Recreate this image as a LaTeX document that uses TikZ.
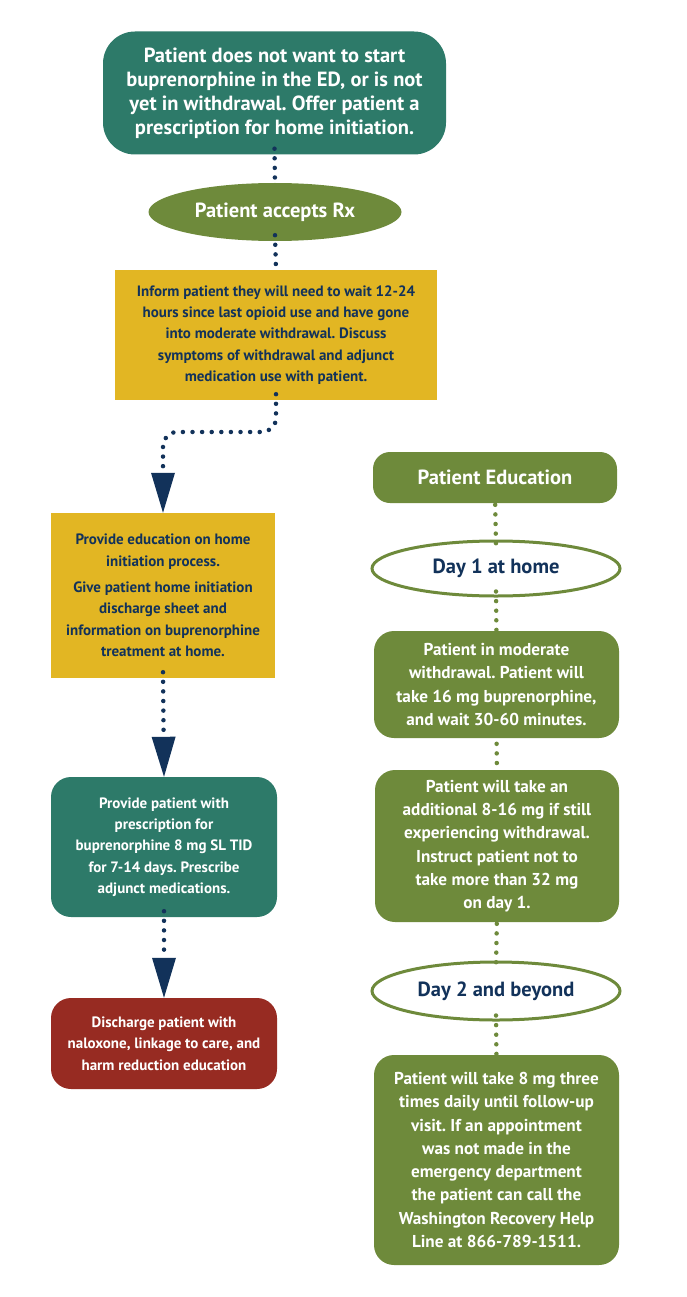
\documentclass[tikz,border=0pt]{standalone}
\usepackage{fontspec}
\setmainfont{PT Sans}
\usetikzlibrary{arrows.meta,shapes.geometric}
\definecolor{teal}{HTML}{2D7A69}
\definecolor{olive}{HTML}{6E8A3B}
\definecolor{mustard}{HTML}{E2B623}
\definecolor{rust}{HTML}{972B22}
\definecolor{navy}{HTML}{12325A}
\frenchspacing

\begin{document}
\begin{tikzpicture}[x=1pt,y=-1pt,
  box/.style={align=center, font=\bfseries, inner sep=0pt},
  tealbox/.style={box, fill=teal, text=white, rounded corners=22pt},
  yellowbox/.style={box, fill=mustard, text=navy},
  greenbox/.style={box, fill=olive, text=white, rounded corners=20pt},
  redbox/.style={box, fill=rust, text=white, rounded corners=20pt},
  dayoval/.style={box, ellipse, draw=olive, line width=3pt, fill=white, text=navy},
  flow/.style={navy, line width=4.5pt, line cap=round, dash pattern=on 0pt off 9.6pt},
  flowtip/.style={flow, -{Triangle[width=24pt,length=40pt,line width=0pt]}},
  greenflow/.style={flow, olive}]
\useasboundingbox (0,0) rectangle (686,1297);
% left column
\node[tealbox, minimum width=343pt, minimum height=123pt, rounded corners=32pt,
  font=\bfseries\fontsize{20.5}{24}\selectfont] (start) at (274.5,93)
  {Patient does not want to start\\ buprenorphine in the ED, or is not\\ yet in withdrawal. Offer patient a\\ prescription for home initiation.};
\node[box, ellipse, fill=olive, text=white, minimum width=253pt, minimum height=58pt,
  font=\bfseries\fontsize{20.5}{22}\selectfont] (accept) at (275,212) {Patient accepts Rx};
\node[yellowbox, minimum width=322pt, minimum height=130pt,
  font=\bfseries\fontsize{15}{21.3}\selectfont] (inform) at (276,335)
  {Inform patient they will need to wait 12-24\\ hours since last opioid use and have gone\\ into moderate withdrawal. Discuss\\ symptoms of withdrawal and adjunct\\ medication use with patient.};
\node[yellowbox, minimum width=224pt, minimum height=165pt,
  font=\bfseries\fontsize{15}{21.3}\selectfont] (educate) at (163,595.5)
  {Provide education on home\\ initiation process.\\[5pt] Give patient home initiation\\ discharge sheet and\\ information on buprenorphine\\ treatment at home.};
\node[tealbox, minimum width=226pt, minimum height=140pt, rounded corners=20pt,
  font=\bfseries\fontsize{15}{21.3}\selectfont] (rx) at (164,847)
  {Provide patient with\\ prescription for\\ buprenorphine 8 mg SL TID\\ for 7-14 days. Prescribe\\ adjunct medications.};
\node[redbox, minimum width=226pt, minimum height=91pt,
  font=\bfseries\fontsize{15}{21.3}\selectfont] (discharge) at (164,1043.5)
  {Discharge patient with\\ naloxone, linkage to care, and\\ harm reduction education};
% right column
\node[greenbox, minimum width=244pt, minimum height=51pt, rounded corners=17pt,
  font=\bfseries\fontsize{20.5}{22}\selectfont] (pated) at (495,477.5) {Patient Education};
\node[dayoval, minimum width=248pt, minimum height=55pt,
  font=\bfseries\fontsize{20.5}{22}\selectfont] (day1) at (496,568.5) {Day 1 at home};
\node[greenbox, minimum width=245pt, minimum height=107pt,
  font=\bfseries\fontsize{17.2}{23.3}\selectfont] (dose1) at (496.5,684.5)
  {Patient in moderate\\ withdrawal. Patient will\\ take 16 mg buprenorphine,\\ and wait 30-60 minutes.};
\node[greenbox, minimum width=244pt, minimum height=152pt,
  font=\bfseries\fontsize{17.2}{23.3}\selectfont] (dose2) at (497,846)
  {Patient will take an\\ additional 8-16 mg if still\\ experiencing withdrawal.\\ Instruct patient not to\\ take more than 32 mg\\ on day 1.};
\node[dayoval, minimum width=248pt, minimum height=58pt,
  font=\bfseries\fontsize{20.5}{22}\selectfont] (day2) at (496,991) {Day 2 and beyond};
\node[greenbox, minimum width=245pt, minimum height=210pt,
  font=\bfseries\fontsize{17.2}{23.3}\selectfont] (later) at (496.5,1160)
  {Patient will take 8 mg three\\ times daily until follow-up\\ visit. If an appointment\\ was not made in the\\ emergency department\\ the patient can call the\\ Washington Recovery Help\\ Line at 866-789-1511.};
% connectors
\coordinate (bend) at (163,432);
\draw[flow] ([yshift=6pt]start.south) -- ([yshift=-4pt]accept.north);
\draw[flow] ([yshift=6pt]accept.south) -- (inform.north);
\draw[flowtip, rounded corners=14pt] ([yshift=6pt]inform.south) |- (bend) -- (educate.north);
\draw[flowtip] ([yshift=6pt]educate.south) -- (rx.north);
\draw[flowtip] ([yshift=6pt]rx.south) -- (discharge.north);
\draw[greenflow] ([yshift=8pt]pated.south) -- ([yshift=-6pt]day1.north);
\draw[greenflow] ([yshift=6pt]day1.south) -- ([yshift=-6pt]dose1.north);
\draw[greenflow] ([yshift=4pt]dose1.south) -- ([yshift=-6pt]dose2.north);
\draw[greenflow] ([yshift=8pt]dose2.south) -- ([yshift=-6pt]day2.north);
\draw[greenflow] ([yshift=6pt]day2.south) -- ([yshift=-6pt]later.north);
\end{tikzpicture}
\end{document}
